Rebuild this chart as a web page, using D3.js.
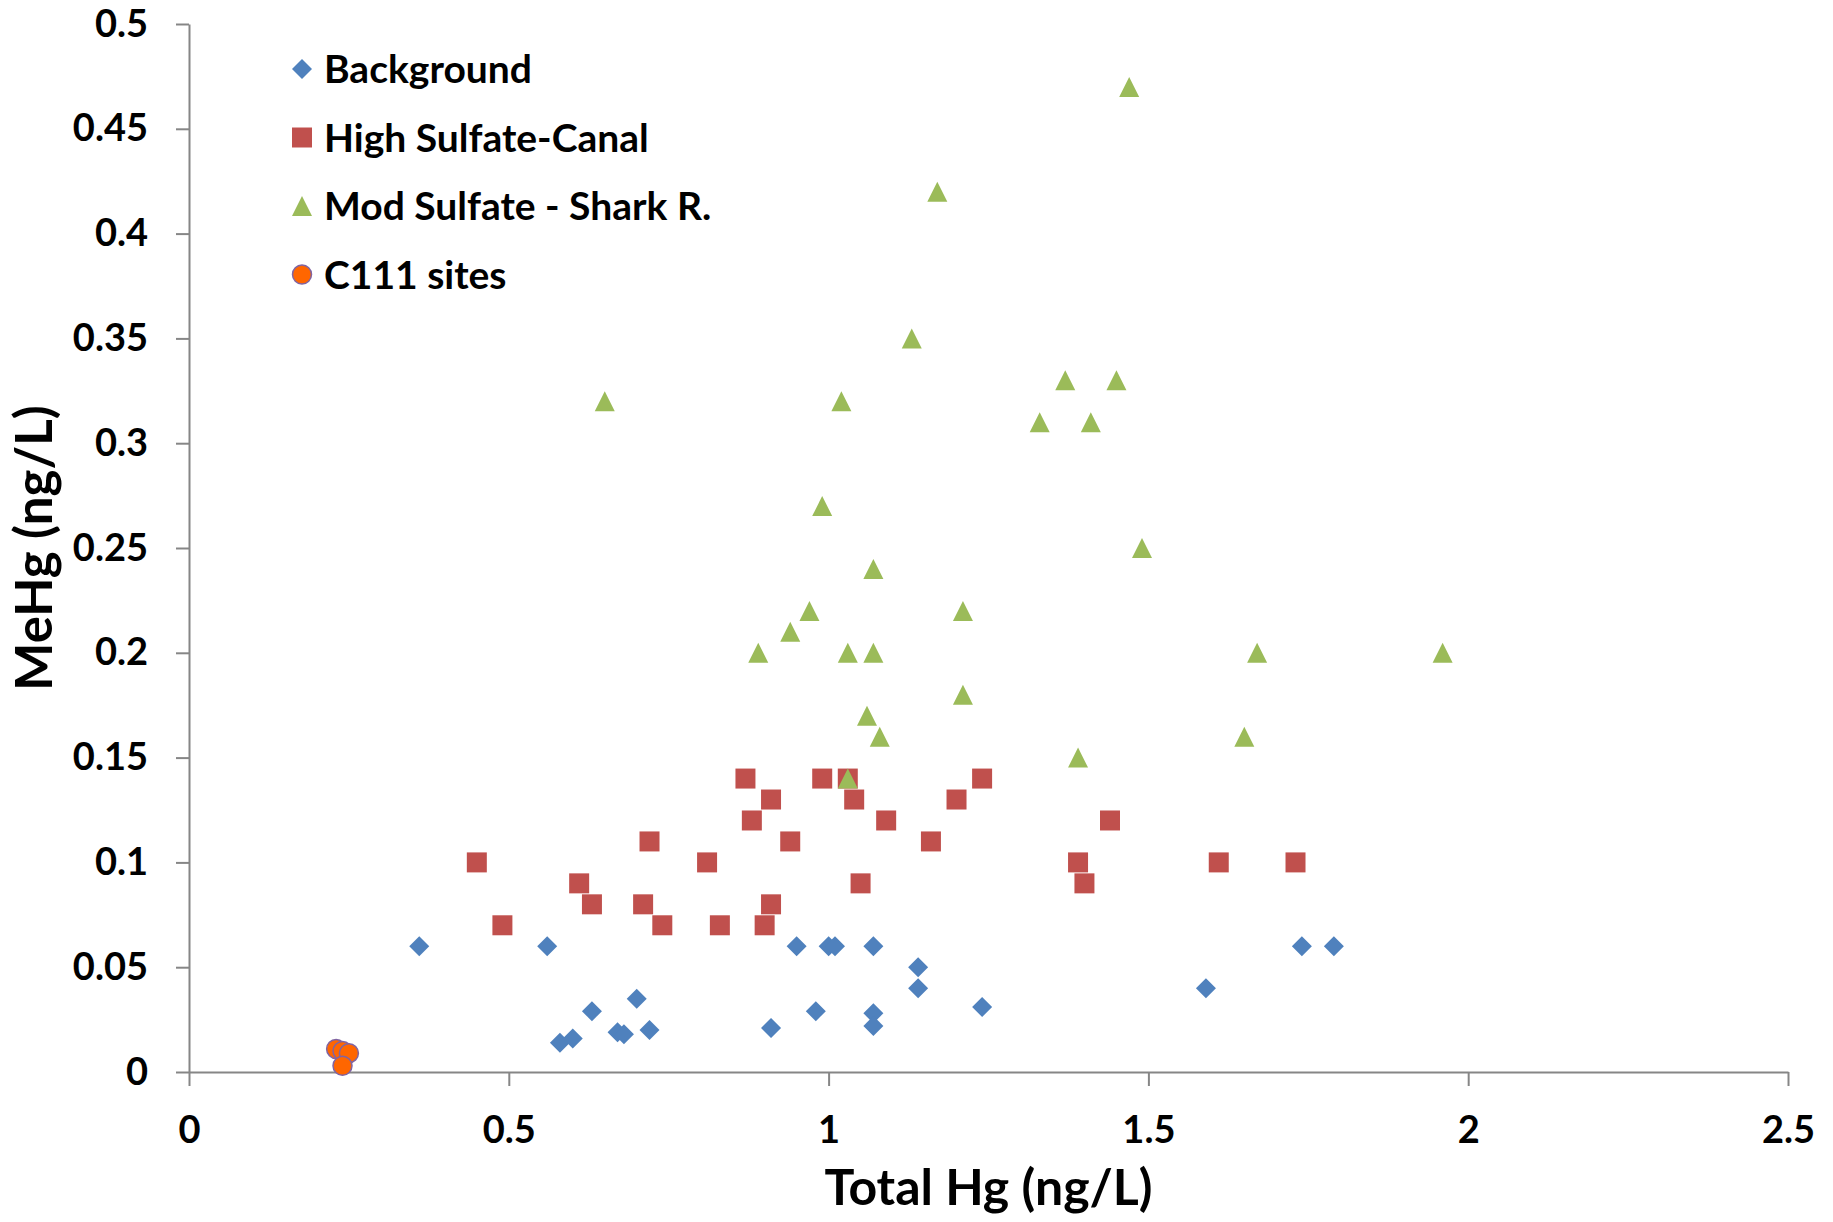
<!DOCTYPE html>
<html lang="en">
<head>
    <meta charset="UTF-8">
    <title>MeHg vs Total Hg</title>
    <script src="https://d3js.org/d3.v7.min.js"></script>
    <style>
        body { margin: 0; background: #fff; }
        text { font-family: Lato, "Open Sans", sans-serif; font-weight: bold; fill: #000; }
        .axis path, .axis line { stroke: #868686; stroke-width: 2; }
    </style>
</head>
<body>
    <div id="chart"></div>

    <script>
        // data: [Total Hg, MeHg]
        var background = [
            [0.36, 0.06], [0.56, 0.06], [0.58, 0.014], [0.60, 0.016], [0.63, 0.029],
            [0.67, 0.019], [0.68, 0.018], [0.70, 0.035], [0.72, 0.020], [0.91, 0.021],
            [0.95, 0.06], [0.98, 0.029], [1.00, 0.06], [1.01, 0.06], [1.07, 0.06],
            [1.07, 0.028], [1.07, 0.022], [1.14, 0.05], [1.14, 0.04], [1.24, 0.031],
            [1.59, 0.04], [1.74, 0.06], [1.79, 0.06]
        ];
        var highSulfate = [
            [0.45, 0.10], [0.49, 0.07], [0.61, 0.09], [0.63, 0.08], [0.71, 0.08],
            [0.72, 0.11], [0.74, 0.07], [0.81, 0.10], [0.83, 0.07], [0.87, 0.14],
            [0.88, 0.12], [0.90, 0.07], [0.91, 0.13], [0.91, 0.08], [0.94, 0.11],
            [0.99, 0.14], [1.03, 0.14], [1.04, 0.13], [1.05, 0.09], [1.09, 0.12],
            [1.16, 0.11], [1.20, 0.13], [1.24, 0.14], [1.39, 0.10], [1.40, 0.09],
            [1.44, 0.12], [1.61, 0.10], [1.73, 0.10]
        ];
        var modSulfate = [
            [0.65, 0.32], [0.89, 0.20], [0.94, 0.21], [0.97, 0.22], [0.99, 0.27],
            [1.02, 0.32], [1.03, 0.20], [1.03, 0.14], [1.06, 0.17], [1.07, 0.24],
            [1.07, 0.20], [1.08, 0.16], [1.13, 0.35], [1.17, 0.42], [1.21, 0.22],
            [1.21, 0.18], [1.33, 0.31], [1.37, 0.33], [1.39, 0.15], [1.41, 0.31],
            [1.45, 0.33], [1.47, 0.47], [1.49, 0.25], [1.65, 0.16], [1.67, 0.20],
            [1.96, 0.20]
        ];
        var c111 = [
            [0.23, 0.011], [0.24, 0.010], [0.25, 0.009], [0.24, 0.003]
        ];

        var seriesNames = ["Background", "High Sulfate-Canal", "Mod Sulfate - Shark R.", "C111 sites"];
        var xTicks = [0, 0.5, 1, 1.5, 2, 2.5];
        var xTickLabels = ["0", "0.5", "1", "1.5", "2", "2.5"];
        var yTicks = [0, 0.05, 0.1, 0.15, 0.2, 0.25, 0.3, 0.35, 0.4, 0.45, 0.5];
        var yTickLabels = ["0", "0.05", "0.1", "0.15", "0.2", "0.25", "0.3", "0.35", "0.4", "0.45", "0.5"];

        var width = 1833, height = 1222;
        var margin = { left: 189, right: 45, top: 24, bottom: 150 };

        var svg = d3.select("#chart").append("svg")
            .attr("width", width)
            .attr("height", height);

        var x = d3.scaleLinear().domain([0, 2.5]).range([margin.left, width - margin.right]);
        var y = d3.scaleLinear().domain([0, 0.5]).range([height - margin.bottom, margin.top]);

        // marker shapes, 20px box
        var shapes = {
            diamond: "M0,-10L10,0L0,10L-10,0Z",
            square: "M-10,-10H10V10H-10Z",
            triangle: "M0,-10L10,10L-10,10Z"
        };
        var series = [
            { name: seriesNames[0], data: background, shape: "diamond", fill: "#4F81BD" },
            { name: seriesNames[1], data: highSulfate, shape: "square", fill: "#C0504D" },
            { name: seriesNames[2], data: modSulfate, shape: "triangle", fill: "#9BBB59" },
            { name: seriesNames[3], data: c111, shape: "circle", fill: "#FF6600", stroke: "#8064A2" }
        ];

        function drawMarker(sel, s) {
            if (s.shape == "circle") {
                sel.append("circle").attr("r", 9.5)
                    .attr("fill", s.fill).attr("stroke", s.stroke).attr("stroke-width", 1.5);
            } else {
                sel.append("path").attr("d", shapes[s.shape]).attr("fill", s.fill);
            }
        }

        // axes
        var xAxis = d3.axisBottom(x)
            .tickValues(xTicks)
            .tickFormat((d, i) => xTickLabels[i])
            .tickSizeInner(14).tickSizeOuter(0).tickPadding(30);
        var yAxis = d3.axisLeft(y)
            .tickValues(yTicks)
            .tickFormat((d, i) => yTickLabels[i])
            .tickSizeInner(13).tickSizeOuter(0).tickPadding(28);

        svg.append("g").attr("class", "axis")
            .attr("transform", "translate(0," + y(0) + ")")
            .call(xAxis);
        svg.append("g").attr("class", "axis")
            .attr("transform", "translate(" + x(0) + ",0)")
            .call(yAxis);
        svg.selectAll(".axis text")
            .style("font-size", "38px")
            .attr("fill", "#000");

        // points
        series.forEach(function(s) {
            svg.append("g").selectAll("g")
                .data(s.data)
                .enter()
                .append("g")
                .attr("transform", d => "translate(" + x(d[0]) + "," + y(d[1]) + ")")
                .each(function() { drawMarker(d3.select(this), s); });
        });

        // axis titles
        svg.append("text")
            .attr("x", (x(0) + x(2.5)) / 2)
            .attr("y", 1205)
            .attr("text-anchor", "middle")
            .style("font-size", "50px")
            .text("Total Hg (ng/L)");
        svg.append("text")
            .attr("transform", "translate(52," + (y(0) + y(0.5)) / 2 + ") rotate(-90)")
            .attr("text-anchor", "middle")
            .style("font-size", "51px")
            .text("MeHg (ng/L)");

        // legend
        var legend = svg.append("g").selectAll("g")
            .data(series)
            .enter()
            .append("g")
            .attr("transform", (d, i) => "translate(302," + (69 + i * 68.5) + ")");
        legend.each(function(s) { drawMarker(d3.select(this), s); });
        legend.append("text")
            .attr("x", 22)
            .attr("dy", "0.36em")
            .style("font-size", "39px")
            .text(d => d.name);
    </script>
</body>
</html>
